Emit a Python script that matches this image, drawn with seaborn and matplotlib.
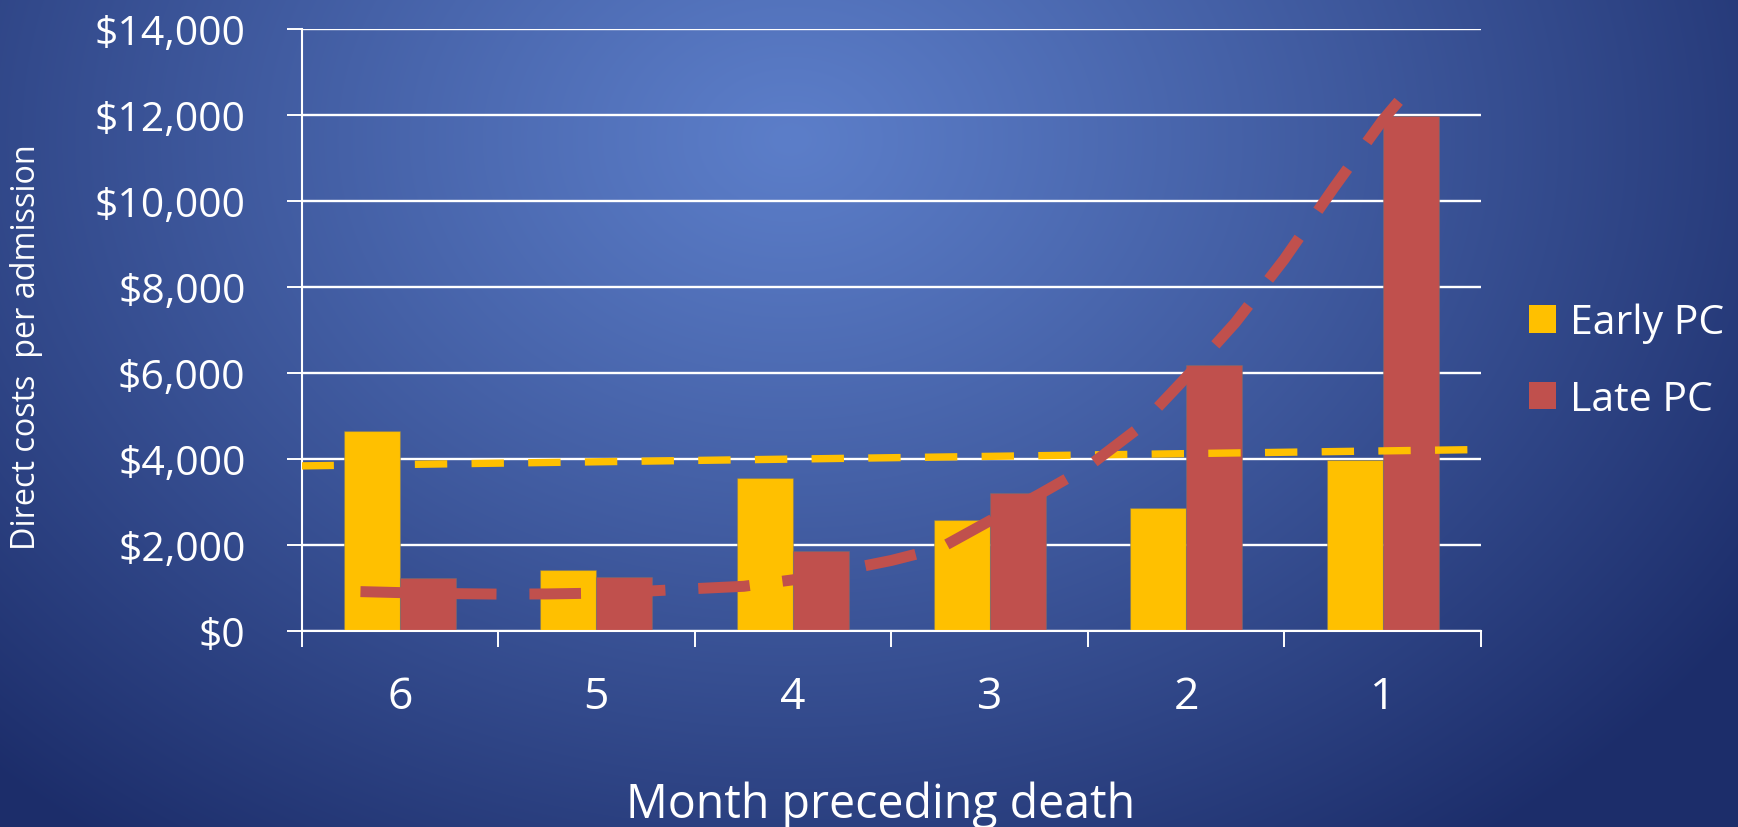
import numpy as np
import pandas as pd
import matplotlib
matplotlib.use("Agg")
import matplotlib.pyplot as plt
import seaborn as sns
from matplotlib.patches import Patch
from matplotlib.ticker import FixedLocator, FuncFormatter

# ---- data -------------------------------------------------------------
months = ["6", "5", "4", "3", "2", "1"]
series_names = ["Early PC", "Late PC"]
early_pc = [4640, 1410, 3550, 2570, 2850, 3980]
late_pc = [1230, 1260, 1850, 3220, 6180, 11980]

# trend lines: position on the category axis (0 = month 6) and cost
early_trend_pos = [-0.5, 5.5]
early_trend_val = [3840, 4220]
late_trend_pos = [-0.2, 0.0, 0.25, 0.5, 0.75, 1.0, 1.25, 1.5, 1.75, 2.0,
                  2.25, 2.5, 2.75, 3.0, 3.25, 3.5, 3.75, 4.0, 4.25, 4.5,
                  4.75, 5.0, 5.1]
late_trend_val = [916, 893, 870, 858, 862, 880, 925, 985, 1040, 1190,
                  1410, 1640, 1930, 2560, 3170, 3820, 4690, 5900, 7170, 8650,
                  10300, 11880, 12420]

y_ticks = [0, 2000, 4000, 6000, 8000, 10000, 12000, 14000]

YELLOW = "#FFC000"
RED = "#C0504D"
WHITE = "white"
FONT = "Open Sans"

# ---- figure -----------------------------------------------------------
sns.set_theme(style="white")
plt.rcParams["font.family"] = [FONT, "DejaVu Sans"]

W, H = 1738, 828
fig = plt.figure(figsize=(W / 100, H / 100), dpi=100)

# radial blue backdrop
bg = fig.add_axes([0, 0, 1, 1], zorder=-10)
yy, xx = np.mgrid[0:H, 0:W]
d = np.sqrt(((xx - 790) / 1150.0) ** 2 + ((yy - 140) / 880.0) ** 2)
t = np.clip(d, 0, 1)[..., None] ** 1.1
c0 = np.array([92, 126, 201]) / 255.0
c1 = np.array([28, 45, 106]) / 255.0
bg.imshow(c0 * (1 - t) + c1 * t, aspect="auto", extent=[0, 1, 0, 1], origin="upper")
bg.axis("off")

left, right, bottom, top = 301.5 / W, 1481 / W, 1 - 632 / H, 1 - 30 / H
ax = fig.add_axes([left, bottom, right - left, top - bottom])
ax.patch.set_alpha(0)

df = pd.concat([
    pd.DataFrame({"month": months, "cost": early_pc, "group": series_names[0]}),
    pd.DataFrame({"month": months, "cost": late_pc, "group": series_names[1]}),
], ignore_index=True)

sns.barplot(data=df, x="month", y="cost", hue="group", order=months,
            hue_order=series_names, palette=[YELLOW, RED], width=0.57, gap=0,
            saturation=1, errorbar=None, legend=False, ax=ax,
            edgecolor=(0.45, 0.45, 0.45, 0.45), linewidth=0.8)

# trend lines
ax.plot(early_trend_pos, early_trend_val, color=YELLOW, lw=5.3,
        dashes=(4.4, 3.3), dash_capstyle="butt", zorder=5)
ax.plot(late_trend_pos, late_trend_val, color=RED, lw=7.9,
        dashes=(4.7, 3.0), dash_capstyle="butt", zorder=6)

# axes styling
ax.set_xlim(-0.5, 5.5)
ax.set_ylim(0, 14000)
ax.set_xlabel("")
ax.set_ylabel("")
for s in ["top", "right"]:
    ax.spines[s].set_visible(False)
for s in ["left", "bottom"]:
    ax.spines[s].set_color(WHITE)
    ax.spines[s].set_linewidth(1.5)

ax.set_axisbelow(True)
ax.yaxis.grid(True, color=WHITE, lw=1.7)
ax.xaxis.grid(False)

ax.set_yticks(y_ticks)
ax.yaxis.set_major_formatter(FuncFormatter(lambda v, p: f"${v:,.0f}"))
ax.tick_params(axis="y", length=10.8, width=1.4, color=WHITE, pad=29.5,
               labelsize=29.5, labelcolor=WHITE, left=True)
for lab in ax.get_yticklabels():
    lab.set_family(FONT)

ax.set_xticks(range(len(months)))
ax.set_xticklabels(months, family=FONT, size=32, color=WHITE)
ax.xaxis.set_minor_locator(FixedLocator(np.arange(-0.5, len(months), 1.0)))
ax.tick_params(axis="x", which="major", length=0, pad=31.5, bottom=True)
ax.tick_params(axis="x", which="minor", length=11.5, width=1.4, color=WHITE, bottom=True)

# titles
fig.text(27 / W, 1 - 347.5 / H, "Direct costs  per admission", rotation=90,
         ha="center", va="center", color=WHITE, family=FONT, size=23.3)
fig.text(881 / W, 1 - 818 / H, "Month preceding death", ha="center",
         va="baseline", color=WHITE, family=FONT, size=33.5)

# legend
handles = [Patch(facecolor=YELLOW, edgecolor="none", label=series_names[0]),
           Patch(facecolor=RED, edgecolor="none", label=series_names[1])]
ax.legend(handles=handles, loc="center left",
          bbox_to_anchor=(1529 / W, 1 - 362.5 / H), bbox_transform=fig.transFigure,
          frameon=False, prop={"family": FONT, "size": 29.5},
          handlelength=0.66, handleheight=0.66, handletextpad=0.33,
          labelspacing=0.88, borderpad=0, borderaxespad=0, labelcolor=WHITE)

fig.savefig("out.png", dpi=100)
